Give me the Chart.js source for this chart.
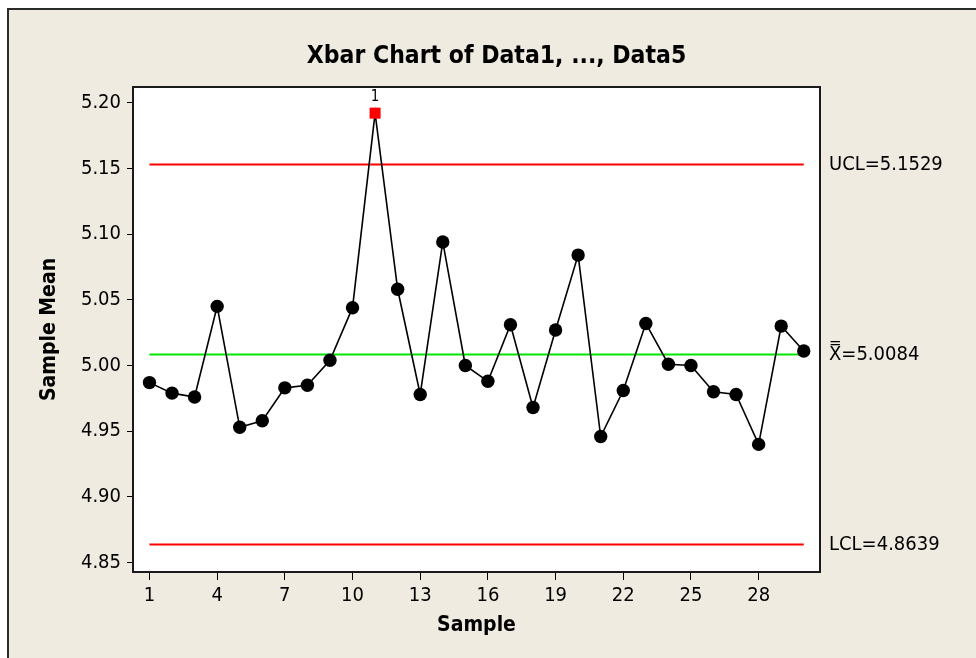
<!DOCTYPE html>
<html>
<head>
<meta charset="utf-8">
<script src="https://cdn.jsdelivr.net/npm/chart.js@4/dist/chart.umd.min.js"></script>
<style>
  html, body { margin: 0; padding: 0; background: #fff; }
  canvas { display: block; }
</style>
</head>
<body>
<canvas id="xbarChart" width="976" height="658"></canvas>
<script>
// sample numbers and subgroup means
const samples = [1, 2, 3, 4, 5, 6, 7, 8, 9, 10, 11, 12, 13, 14, 15, 16, 17, 18, 19, 20, 21, 22, 23, 24, 25, 26, 27, 28, 29, 30];
const means = [4.987, 4.979, 4.976, 5.045, 4.953, 4.958, 4.983, 4.985, 5.004, 5.044,
               5.192, 5.058, 4.978, 5.094, 5.000, 4.988, 5.031, 4.968, 5.027, 5.084,
               4.946, 4.981, 5.032, 5.001, 5.000, 4.980, 4.978, 4.940, 5.030, 5.011];

// control limits
const UCL = 5.1529;
const CL = 5.0084;
const LCL = 4.8639;

// tick labels
const xTicks = [1, 4, 7, 10, 13, 16, 19, 22, 25, 28];
const yTicks = [4.85, 4.90, 4.95, 5.00, 5.05, 5.10, 5.15, 5.20];

const FONT = "'DejaVu Sans Condensed', 'DejaVu Sans', sans-serif";

const limitLine = (val) => [{ x: samples[0], y: val }, { x: samples[samples.length - 1], y: val }];

// page frame + white plot area
const framePlugin = {
  id: "frame",
  beforeDraw(chart) {
    const { ctx, chartArea: a, width, height } = chart;
    ctx.save();
    ctx.fillStyle = "#ffffff";
    ctx.fillRect(0, 0, width, height);
    ctx.fillStyle = "#efebe1";
    ctx.fillRect(8, 9, width, height);
    ctx.strokeStyle = "#2b2b2b";
    ctx.lineWidth = 2;
    ctx.beginPath();
    ctx.moveTo(8, height);
    ctx.lineTo(8, 9);
    ctx.lineTo(width, 9);
    ctx.stroke();
    ctx.fillStyle = "#ffffff";
    ctx.fillRect(a.left, a.top, a.right - a.left, a.bottom - a.top);
    ctx.restore();
  },
  afterDatasetsDraw(chart) {
    const { ctx, scales } = chart;
    ctx.save();
    // test 1 flags above out-of-control points
    ctx.fillStyle = "#000";
    ctx.font = "15px " + FONT;
    ctx.textAlign = "center";
    ctx.textBaseline = "middle";
    means.forEach((v, i) => {
      if (v > UCL || v < LCL) {
        const px = scales.x.getPixelForValue(samples[i]);
        const py = scales.y.getPixelForValue(v);
        ctx.fillText("1", px, py - 16);
      }
    });
    ctx.restore();
  },
  afterDraw(chart) {
    const { ctx, chartArea: a } = chart;
    ctx.save();
    ctx.strokeStyle = "#1a1a1a";
    ctx.lineWidth = 2;
    ctx.strokeRect(a.left, a.top, a.right - a.left, a.bottom - a.top);
    ctx.restore();
  }
};

const ctx = document.getElementById("xbarChart").getContext("2d");
new Chart(ctx, {
  type: "line",
  data: {
    datasets: [
      {
        label: "Sample Mean",
        data: samples.map((s, i) => ({ x: s, y: means[i] })),
        borderColor: "#000",
        borderWidth: 1.6,
        tension: 0,
        pointStyle: means.map(v => (v > UCL || v < LCL) ? "rect" : "circle"),
        pointRadius: means.map(v => (v > UCL || v < LCL) ? 7.8 : 6.7),
        pointBackgroundColor: means.map(v => (v > UCL || v < LCL) ? "#ff0000" : "#000"),
        pointBorderWidth: 0,
        pointHoverRadius: 0
      },
      { label: "UCL", data: limitLine(UCL), borderColor: "#ff0000", borderWidth: 2, pointRadius: 0 },
      { label: "CL", data: limitLine(CL), borderColor: "#00e600", borderWidth: 2, pointRadius: 0 },
      { label: "LCL", data: limitLine(LCL), borderColor: "#ff0000", borderWidth: 2, pointRadius: 0 }
    ]
  },
  options: {
    responsive: false,
    animation: false,
    layout: { padding: { left: 17, right: 0, top: 0, bottom: 0 } },
    plugins: {
      legend: { display: false },
      tooltip: { enabled: false },
      title: {
        display: true,
        text: "Xbar Chart of Data1, ..., Data5",
        color: "#000",
        font: { family: FONT, size: 24.5, weight: "bold" },
        padding: { top: 42, bottom: 15.6 }
      }
    },
    scales: {
      x: {
        type: "linear",
        min: 0.27,
        max: 30.72,
        afterBuildTicks: (scale) => { scale.ticks = xTicks.map(v => ({ value: v })); },
        afterFit: (scale) => { scale.height = 86; },
        grid: { drawOnChartArea: false, drawTicks: true, tickLength: 8, color: "#000", lineWidth: 1 },
        border: { display: false },
        ticks: { color: "#000", padding: 4, autoSkip: false, maxRotation: 0, font: { family: FONT, size: 20 } },
        title: {
          display: true,
          text: "Sample",
          color: "#000",
          font: { family: FONT, size: 21, weight: "bold" },
          padding: { top: 0, bottom: 20 }
        }
      },
      y: {
        position: "left",
        min: 4.8429,
        max: 5.2119,
        afterBuildTicks: (scale) => { scale.ticks = yTicks.map(v => ({ value: v })); },
        afterFit: (scale) => { scale.width = 116; },
        grid: { drawOnChartArea: false, drawTicks: true, tickLength: 6, color: "#000", lineWidth: 1 },
        border: { display: false },
        ticks: { color: "#000", padding: 6, callback: (v) => v.toFixed(2), font: { family: FONT, size: 20 } },
        title: {
          display: true,
          text: "Sample Mean",
          color: "#000",
          font: { family: FONT, size: 21, weight: "bold" },
          padding: { top: 20, bottom: 0 }
        }
      },
      limits: {
        position: "right",
        min: 4.8429,
        max: 5.2119,
        afterBuildTicks: (scale) => { scale.ticks = [LCL, CL, UCL].map(v => ({ value: v })); },
        afterFit: (scale) => { scale.width = 156; },
        grid: { display: false, drawTicks: false },
        border: { display: false },
        ticks: {
          color: "#000",
          padding: 9,
          font: { family: FONT, size: 20 },
          callback: (v) => {
            if (v === UCL) return "UCL=" + UCL.toFixed(4);
            if (v === LCL) return "LCL=" + LCL.toFixed(4);
            return "X\u033F=" + CL.toFixed(4);
          }
        }
      }
    }
  },
  plugins: [framePlugin]
});
</script>
</body>
</html>
